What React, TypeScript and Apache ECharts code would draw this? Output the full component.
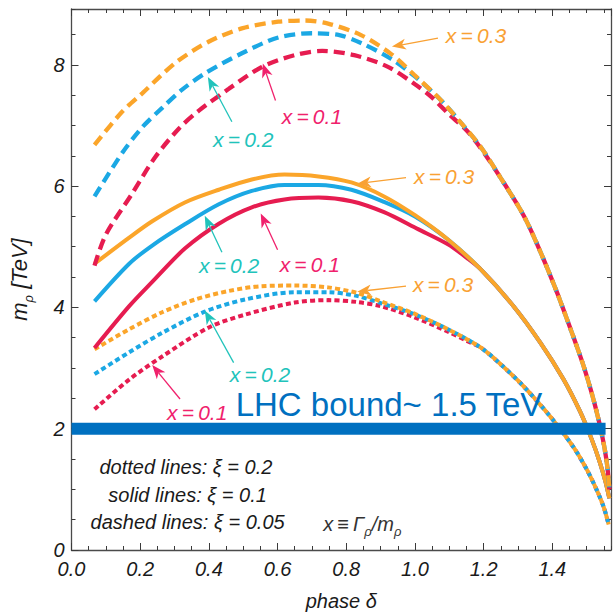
import React, { useEffect, useRef } from "react";
import * as echarts from "echarts";

const X_MAX = Math.PI / 2;
const Y_MAX = 8.92;
const xTickLabels = ["0.0", "0.2", "0.4", "0.6", "0.8", "1.0", "1.2", "1.4"];
const yTickLabels = ["0", "2", "4", "6", "8"];

// xi = 0.05 (dashed)
const dashed03: number[][] = [
  [0.067, 6.68], [0.148, 7.23], [0.206, 7.53], [0.302, 8.03], [0.399, 8.38], [0.496, 8.6],
  [0.602, 8.71], [0.68, 8.73], [0.747, 8.68], [0.843, 8.49], [0.93, 8.18], [0.997, 7.84],
  [1.075, 7.42], [1.133, 7.05], [1.191, 6.65], [1.249, 6.14], [1.316, 5.52], [1.365, 4.92],
  [1.414, 4.24], [1.461, 3.52], [1.49, 3.05], [1.515, 2.58], [1.535, 2.14], [1.55, 1.74],
  [1.56, 1.38], [1.566, 1.0],
];
const dashed02Head: number[][] = [
  [0.067, 5.83], [0.148, 6.55], [0.206, 6.97], [0.264, 7.29], [0.322, 7.59], [0.389, 7.86],
  [0.496, 8.19], [0.602, 8.45], [0.7, 8.52], [0.78, 8.49], [0.843, 8.36], [0.93, 8.1],
  [0.997, 7.82], [1.075, 7.42],
];
const dashed01Head: number[][] = [
  [0.067, 4.69], [0.1, 5.2], [0.177, 5.88], [0.244, 6.48], [0.313, 6.95], [0.37, 7.24],
  [0.457, 7.6], [0.553, 7.96], [0.65, 8.16], [0.73, 8.23], [0.823, 8.16], [0.92, 7.97],
  [1.0, 7.68], [1.046, 7.48], [1.1, 7.18], [1.15, 6.92], [1.191, 6.63],
];

// xi = 0.1 (solid)
const solid03: number[][] = [
  [0.067, 4.72], [0.168, 5.15], [0.235, 5.42], [0.33, 5.73], [0.429, 5.94], [0.525, 6.11],
  [0.62, 6.19], [0.719, 6.16], [0.815, 6.06], [0.91, 5.83], [1.0, 5.52], [1.096, 5.12],
  [1.191, 4.63], [1.287, 4.02], [1.365, 3.42], [1.432, 2.82], [1.481, 2.28], [1.515, 1.82],
  [1.538, 1.45], [1.555, 1.12], [1.566, 0.85],
];
const solid02Head: number[][] = [
  [0.067, 4.1], [0.168, 4.72], [0.235, 5.02], [0.33, 5.37], [0.429, 5.7], [0.525, 5.92],
  [0.62, 6.02], [0.719, 6.02], [0.815, 5.94], [0.91, 5.74], [1.0, 5.5], [1.096, 5.12],
];
const solid01Head: number[][] = [
  [0.067, 3.33], [0.168, 4.02], [0.235, 4.42], [0.33, 4.97], [0.429, 5.38], [0.525, 5.65],
  [0.62, 5.78], [0.719, 5.81], [0.815, 5.75], [0.91, 5.57], [1.009, 5.29], [1.096, 5.04],
  [1.15, 4.82],
];

// xi = 0.2 (dotted)
const dotted03: number[][] = [
  [0.067, 3.31], [0.168, 3.64], [0.264, 3.92], [0.36, 4.13], [0.457, 4.27], [0.553, 4.35],
  [0.65, 4.36], [0.747, 4.33], [0.83, 4.24], [0.901, 4.1], [0.997, 3.9], [1.096, 3.64],
  [1.191, 3.34], [1.25, 3.06], [1.316, 2.7], [1.394, 2.2], [1.461, 1.7], [1.5, 1.33],
  [1.53, 0.98], [1.55, 0.7], [1.564, 0.42],
];
const dotted02Head: number[][] = [
  [0.067, 2.9], [0.168, 3.26], [0.264, 3.58], [0.388, 3.93], [0.505, 4.13], [0.65, 4.25],
  [0.747, 4.25], [0.83, 4.19], [0.901, 4.07], [0.997, 3.89], [1.096, 3.64],
];
const dotted01Head: number[][] = [
  [0.067, 2.32], [0.168, 2.81], [0.264, 3.19], [0.4, 3.67], [0.505, 3.88], [0.65, 4.08],
  [0.747, 4.12], [0.83, 4.09], [0.901, 4.02], [0.997, 3.84], [1.096, 3.6], [1.15, 3.45],
];

const lhcBound = [[0, 2], [1.555, 2]];

const tail = (base: number[][], head: number[][]) => {
  const last = head[head.length - 1][0];
  return head.concat(base.filter((p) => p[0] > last + 1e-9));
};
const dashed02 = tail(dashed03, dashed02Head);
const dashed01 = tail(dashed03, dashed01Head);
const solid02 = tail(solid03, solid02Head);
const solid01 = tail(solid03, solid01Head);
const dotted02 = tail(dotted03, dotted02Head);
const dotted01 = tail(dotted03, dotted01Head);

const ORANGE = "#FBA52A";
const BLUE = "#1BA8E4";
const RED = "#E61C50";
const T_ORANGE = "#F9A133";
const T_TEAL = "#21C3BB";
const T_PINK = "#F0216C";
const LHC = "#0070C0";
const FONT = "'Liberation Sans', Arial, sans-serif";

// annotations in data units: label anchor, arrow tail, arrow tip
const annotations = [
  { text: "x\u2009=\u20090.3", color: T_ORANGE, at: [1.09, 8.48], align: "left", tail: [1.067, 8.44], tip: [0.933, 8.3] },
  { text: "x\u2009=\u20090.3", color: T_ORANGE, at: [0.997, 6.16], align: "left", tail: [0.974, 6.14], tip: [0.832, 6.04] },
  { text: "x\u2009=\u20090.3", color: T_ORANGE, at: [0.994, 4.38], align: "left", tail: [0.974, 4.35], tip: [0.832, 4.26] },
  { text: "x\u2009=\u20090.2", color: T_TEAL, at: [0.5, 6.77], align: "center", tail: [0.467, 7.06], tip: [0.397, 7.8] },
  { text: "x\u2009=\u20090.2", color: T_TEAL, at: [0.371, 4.69], align: "left", tail: [0.438, 4.91], tip: [0.388, 5.51] },
  { text: "x\u2009=\u20090.2", color: T_TEAL, at: [0.461, 2.89], align: "left", tail: [0.472, 3.09], tip: [0.388, 3.95] },
  { text: "x\u2009=\u20090.1", color: T_PINK, at: [0.612, 7.14], align: "left", tail: [0.594, 7.41], tip: [0.557, 8.02] },
  { text: "x\u2009=\u20090.1", color: T_PINK, at: [0.606, 4.71], align: "left", tail: [0.6, 4.95], tip: [0.551, 5.55] },
  { text: "x\u2009=\u20090.1", color: T_PINK, at: [0.278, 2.27], align: "left", tail: [0.316, 2.49], tip: [0.235, 3.05] },
];

const legendLines = ["dotted lines: ξ = 0.2", "solid lines: ξ = 0.1", "dashed lines: ξ = 0.05"];
const legendAt = [[0.333, 1.37], [0.338, 0.91], [0.338, 0.465]];
const defAt = [0.733, 0.43];
const lhcText = "LHC bound~ 1.5 TeV";
const lhcAt = [0.478, 2.4];

function axisX(position: string, interval: number, len: number, main: boolean, label: boolean) {
  return {
    type: "value",
    min: 0,
    max: X_MAX,
    interval,
    position,
    gridIndex: 0,
    axisLine: { show: main, onZero: false, lineStyle: { color: "#4a4a4a", width: 1.3 } },
    axisTick: { show: true, inside: true, length: len, lineStyle: { color: "#3a3a3a", width: 1 } },
    axisLabel: label
      ? {
          show: true,
          showMaxLabel: false,
          margin: 11,
          fontSize: 20,
          lineHeight: 16,
          fontStyle: "italic",
          fontFamily: FONT,
          color: "#1a1a1a",
          formatter: (v: number) => {
            const i = Math.round(v / 0.2);
            return Math.abs(v - i * 0.2) < 1e-6 && xTickLabels[i] ? xTickLabels[i] : "";
          },
        }
      : { show: false },
    splitLine: { show: false },
  };
}

function axisY(position: string, interval: number, len: number, main: boolean, label: boolean) {
  return {
    type: "value",
    min: 0,
    max: Y_MAX,
    interval,
    position,
    gridIndex: 0,
    axisLine: { show: main, onZero: false, lineStyle: { color: "#4a4a4a", width: 1.3 } },
    axisTick: { show: true, inside: true, length: len, lineStyle: { color: "#3a3a3a", width: 1 } },
    axisLabel: label
      ? {
          show: true,
          showMaxLabel: false,
          margin: 7,
          fontSize: 20,
          lineHeight: 16,
          padding: [0, 0, 3, 0],
          fontStyle: "italic",
          fontFamily: FONT,
          color: "#1a1a1a",
          formatter: (v: number) => {
            const i = Math.round(v / 2);
            return Math.abs(v - i * 2) < 1e-6 && yTickLabels[i] ? yTickLabels[i] : "";
          },
        }
      : { show: false },
    splitLine: { show: false },
  };
}

function curve(data: number[][], color: string, kind: string) {
  const type = kind === "dashed" ? [11, 6] : kind === "dotted" ? [5, 3.2] : "solid";
  return {
    type: "line",
    data,
    xAxisIndex: 0,
    yAxisIndex: 0,
    showSymbol: false,
    symbol: "none",
    smooth: 0.3,
    silent: true,
    lineStyle: { color, width: kind === "dashed" ? 4.3 : 4, type, cap: "butt" },
  };
}

export default function App() {
  const ref = useRef<HTMLDivElement>(null);
  useEffect(() => {
    if (!ref.current) return;
    const chart = echarts.init(ref.current, undefined, { renderer: "svg" });
    const option: any = {
      animation: false,
      backgroundColor: "#ffffff",
      grid: { left: 69, right: 2, top: 9, bottom: 65, containLabel: false },
      xAxis: [
        {
          ...axisX("bottom", 0.2, 7, true, true),
          name: "phase δ",
          nameLocation: "middle",
          nameGap: 41,
          nameTextStyle: { fontSize: 20, fontStyle: "italic", fontFamily: FONT, color: "#1a1a1a" },
        },
        axisX("bottom", 0.05, 4, false, false),
        axisX("top", 0.2, 7, true, false),
        axisX("top", 0.05, 4, false, false),
      ],
      yAxis: [
        {
          ...axisY("left", 2, 7, true, true),
          name: "{m|m}{s|ρ}{t| [TeV]}",
          nameLocation: "middle",
          nameGap: 37,
          nameTextStyle: {
            fontFamily: FONT,
            color: "#1a1a1a",
            rich: {
              m: { fontSize: 22, fontStyle: "italic", fontFamily: FONT, color: "#1a1a1a", lineHeight: 22, verticalAlign: "middle" },
              s: { fontSize: 13, fontStyle: "italic", fontFamily: FONT, color: "#1a1a1a", lineHeight: 13, verticalAlign: "bottom" },
              t: { fontSize: 22, fontStyle: "italic", fontFamily: FONT, color: "#1a1a1a", lineHeight: 31, verticalAlign: "middle" },
            },
          },
        },
        axisY("left", 0.5, 4, false, false),
        axisY("right", 2, 7, true, false),
        axisY("right", 0.5, 4, false, false),
      ],
      series: [
        curve(dotted01, RED, "dotted"),
        curve(dotted02, BLUE, "dotted"),
        curve(dotted03, ORANGE, "dotted"),
        curve(solid01, RED, "solid"),
        curve(solid02, BLUE, "solid"),
        curve(solid03, ORANGE, "solid"),
        curve(dashed01, RED, "dashed"),
        curve(dashed02, BLUE, "dashed"),
        curve(dashed03, ORANGE, "dashed"),
        {
          type: "line",
          data: lhcBound,
          xAxisIndex: 0,
          yAxisIndex: 0,
          symbol: "none",
          silent: true,
          lineStyle: { color: LHC, width: 12, cap: "butt" },
        },
      ],
    };
    chart.setOption(option);

    const P = (p: number[]) => chart.convertToPixel({ xAxisIndex: 0, yAxisIndex: 0 }, p) as number[];
    const graphic: any[] = [];
    annotations.forEach((a) => {
      const [tx, ty] = P(a.tail);
      const [hx, hy] = P(a.tip);
      const dx = hx - tx, dy = hy - ty;
      const L = Math.hypot(dx, dy) || 1;
      const ux = dx / L, uy = dy / L;
      const px = -uy, py = ux;
      const HL = 14, HW = 5.5;
      const bx = hx - ux * HL, by = hy - uy * HL;
      const nx = hx - ux * HL * 0.72, ny = hy - uy * HL * 0.72;
      graphic.push({
        type: "line",
        silent: true,
        shape: { x1: tx, y1: ty, x2: nx, y2: ny },
        style: { stroke: a.color, lineWidth: 1.3 },
        z: 10,
      });
      graphic.push({
        type: "polygon",
        silent: true,
        shape: { points: [[hx, hy], [bx + px * HW, by + py * HW], [nx, ny], [bx - px * HW, by - py * HW]] },
        style: { fill: a.color },
        z: 10,
      });
      const [lx, ly] = P(a.at);
      graphic.push({
        type: "text",
        silent: true,
        x: lx,
        y: ly,
        z: 10,
        style: {
          text: a.text,
          fill: a.color,
          fontSize: 21,
          lineHeight: 18,
          fontStyle: "italic",
          fontFamily: FONT,
          align: a.align,
          verticalAlign: "middle",
          textAlign: a.align,
          textVerticalAlign: "middle",
        },
      });
    });
    legendLines.forEach((t, i) => {
      const [lx, ly] = P(legendAt[i]);
      graphic.push({
        type: "text",
        silent: true,
        x: lx,
        y: ly,
        z: 10,
        style: {
          text: t,
          fill: "#1a1a1a",
          fontSize: 20,
          lineHeight: 20,
          fontStyle: "italic",
          fontFamily: FONT,
          align: "center",
          verticalAlign: "middle",
          textAlign: "center",
          textVerticalAlign: "middle",
        },
      });
    });
    {
      const [lx, ly] = P(defAt);
      const base = { fontSize: 20, fontStyle: "italic", fontFamily: FONT, fill: "#333333", color: "#333333", lineHeight: 28, verticalAlign: "middle" };
      const sub = { fontSize: 13, fontStyle: "italic", fontFamily: FONT, fill: "#333333", color: "#333333", lineHeight: 13, verticalAlign: "bottom" };
      graphic.push({
        type: "text",
        silent: true,
        x: lx,
        y: ly,
        z: 10,
        style: {
          text: "{a|x\u2009≡\u2009Γ}{s|ρ}{a|/m}{s|ρ}",
          rich: { a: base, s: sub },
          align: "left",
          verticalAlign: "middle",
          textAlign: "left",
          textVerticalAlign: "middle",
        },
      });
    }
    {
      const [lx, ly] = P(lhcAt);
      graphic.push({
        type: "text",
        silent: true,
        x: lx,
        y: ly,
        z: 10,
        style: {
          text: lhcText,
          fill: LHC,
          fontSize: 33,
          lineHeight: 26,
          fontFamily: FONT,
          align: "left",
          verticalAlign: "middle",
          textAlign: "left",
          textVerticalAlign: "middle",
        },
      });
    }
    chart.setOption({ graphic });

    return () => chart.dispose();
  }, []);
  return (
    <div
      ref={ref}
      style={{ position: "fixed", left: 0, top: 0, width: 613, height: 616, background: "#fff" }}
    />
  );
}
